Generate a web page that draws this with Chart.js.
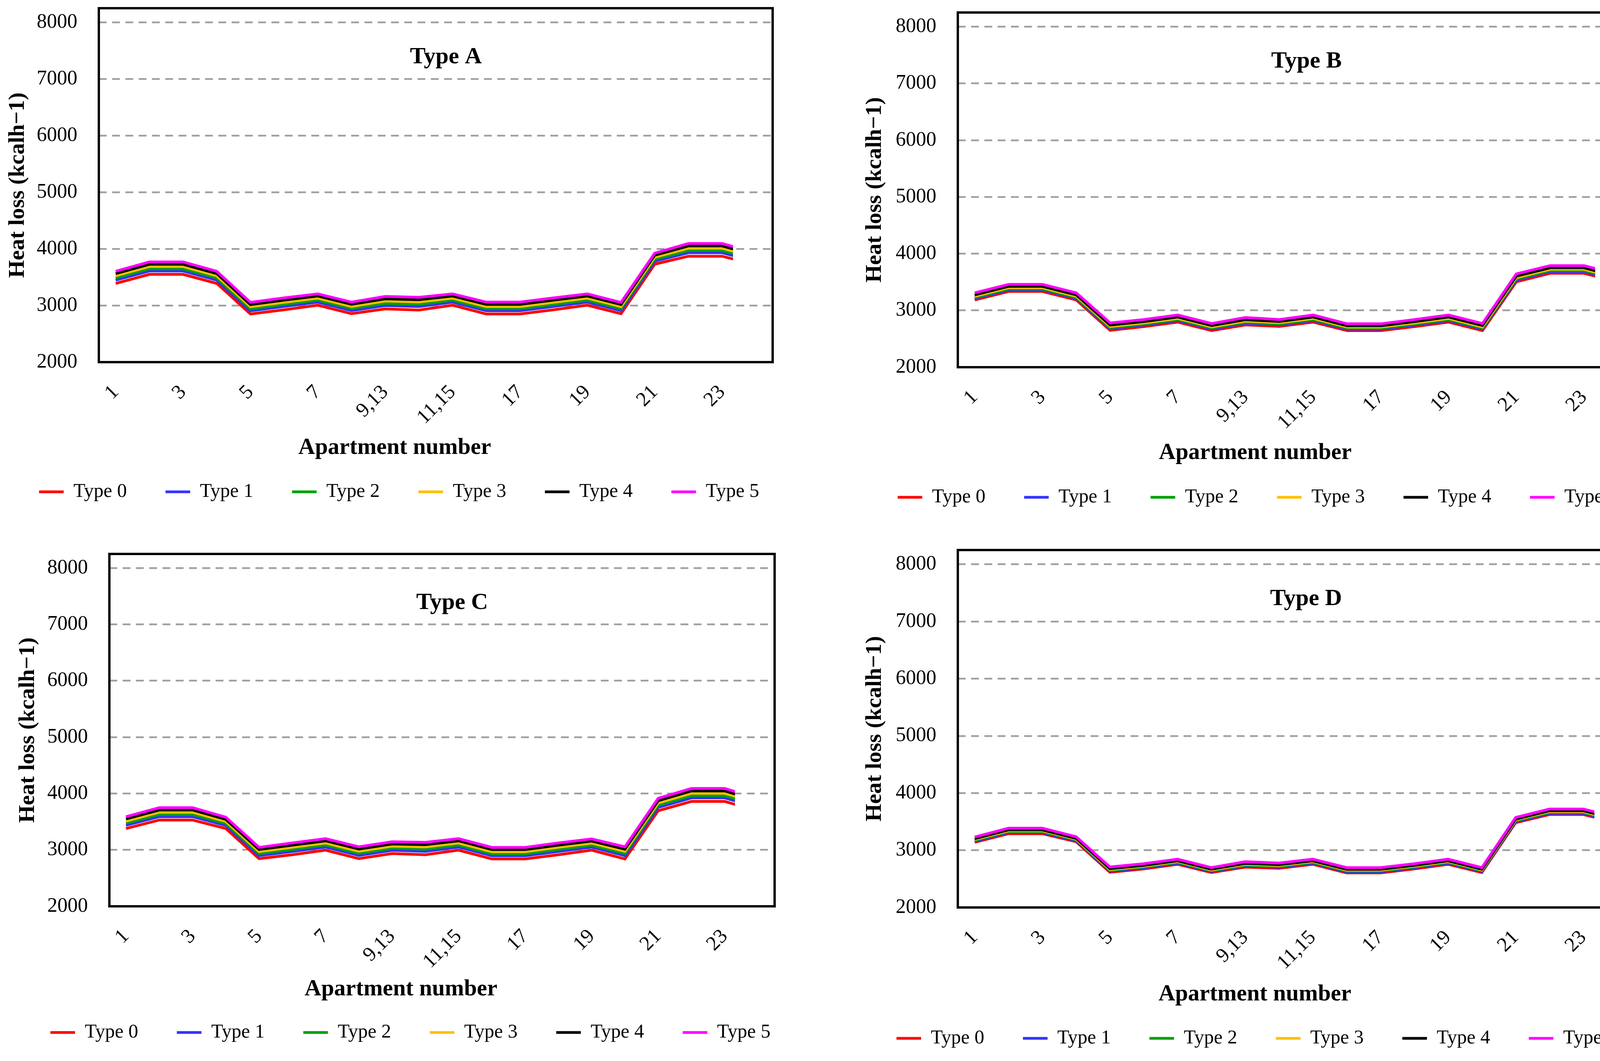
<!DOCTYPE html>
<html>
<head>
<meta charset="utf-8">
<script src="https://cdn.jsdelivr.net/npm/chart.js@4.4.0/dist/chart.umd.min.js"></script>
<style>
  html, body { margin: 0; padding: 0; background: #ffffff; overflow: hidden; }
  body { width: 4202px; height: 2716px; position: relative; }
  canvas { position: absolute; }
</style>
</head>
<body>
<canvas id="chartA" width="2301" height="1358" style="left:0px;top:0px;width:2301px;height:1358px"></canvas>
<canvas id="chartB" width="2301" height="1358" style="left:2101px;top:0px;width:2301px;height:1358px"></canvas>
<canvas id="chartC" width="2301" height="1358" style="left:0px;top:1358px;width:2301px;height:1358px"></canvas>
<canvas id="chartD" width="2301" height="1358" style="left:2101px;top:1358px;width:2301px;height:1358px"></canvas>
<script>
// ---------- DATA ----------
const categories = ['1','2','3','4','5','6','7','8','9,13','10,14','11,15','12,16','17','18','19','20','21','22','23','24'];
const seriesNames = ['Type 0','Type 1','Type 2','Type 3','Type 4','Type 5'];
const panelTitles = ['Type A','Type B','Type C','Type D'];
const yTickValues = [2000, 3000, 4000, 5000, 6000, 7000, 8000];
const xAxisTitle = 'Apartment number';
const yAxisTitle = 'Heat loss (kcalh\u22121)';
const yMin = 2000, yMax = 8250;

// Type A
const typeA_0 = [3390,3550,3550,3390,2850,2925,3005,2855,2940,2920,3005,2850,2850,2925,3005,2855,3730,3870,3870,3720];
const typeA_1 = [3448,3609,3609,3448,2905,2982,3059,2910,2999,2981,3059,2907,2907,2982,3059,2909,3783,3931,3931,3777];
const typeA_2 = [3487,3649,3649,3487,2942,3020,3095,2947,3039,3021,3095,2945,2945,3020,3095,2945,3818,3971,3971,3815];
const typeA_3 = [3525,3689,3689,3525,2979,3057,3131,2984,3079,3062,3131,2982,2982,3057,3131,2981,3853,4012,4012,3852];
const typeA_4 = [3564,3728,3728,3564,3016,3095,3167,3021,3118,3102,3167,3020,3020,3095,3167,3017,3888,4052,4052,3890];
const typeA_5 = [3605,3770,3770,3605,3055,3135,3205,3060,3160,3145,3205,3060,3060,3135,3205,3055,3925,4095,4095,3930];

// Type B
const typeB_0 = [3185,3335,3335,3185,2650,2715,2795,2645,2745,2720,2795,2645,2645,2715,2795,2645,3505,3655,3655,3505];
const typeB_1 = [3213,3363,3363,3213,2679,2743,2823,2673,2774,2746,2823,2671,2671,2743,2823,2673,3536,3685,3685,3534];
const typeB_2 = [3230,3380,3380,3230,2697,2760,2840,2690,2792,2763,2840,2688,2688,2760,2840,2690,3555,3704,3704,3552];
const typeB_3 = [3251,3401,3401,3251,2719,2781,2861,2711,2814,2784,2861,2709,2709,2781,2861,2711,3579,3727,3727,3574];
const typeB_4 = [3274,3424,3424,3274,2742,2804,2884,2734,2837,2805,2884,2730,2730,2804,2884,2734,3604,3751,3751,3597];
const typeB_5 = [3310,3460,3460,3310,2780,2840,2920,2770,2875,2840,2920,2765,2765,2840,2920,2770,3645,3790,3790,3635];

// Type C
const typeC_0 = [3380,3530,3530,3380,2845,2915,2995,2845,2935,2915,2995,2840,2840,2915,2995,2840,3695,3860,3860,3695];
const typeC_1 = [3437,3589,3589,3434,2899,2972,3050,2902,2992,2974,3050,2895,2895,2972,3049,2898,3754,3922,3922,3754];
const typeC_2 = [3475,3629,3629,3470,2935,3010,3087,2940,3030,3014,3087,2932,2932,3010,3085,2937,3794,3964,3964,3794];
const typeC_3 = [3512,3669,3669,3506,2971,3047,3124,2977,3067,3054,3124,2969,2969,3047,3121,2975,3834,4005,4005,3834];
const typeC_4 = [3550,3708,3708,3542,3007,3085,3161,3015,3105,3093,3161,3006,3006,3085,3157,3014,3873,4046,4046,3873];
const typeC_5 = [3590,3750,3750,3580,3045,3125,3200,3055,3145,3135,3200,3045,3045,3125,3195,3055,3915,4090,4090,3915];

// Type D
const typeD_0 = [3140,3290,3290,3150,2615,2675,2755,2612,2705,2685,2755,2605,2605,2675,2755,2612,3483,3625,3625,3478];
const typeD_1 = [3159,3310,3310,3168,2635,2694,2774,2630,2725,2704,2774,2624,2624,2694,2774,2630,3502,3645,3645,3498];
const typeD_2 = [3174,3326,3326,3182,2649,2708,2788,2643,2740,2719,2788,2639,2639,2708,2788,2643,3517,3661,3661,3514];
const typeD_3 = [3189,3341,3341,3196,2664,2723,2803,2657,2755,2734,2803,2654,2654,2723,2803,2657,3532,3676,3676,3529];
const typeD_4 = [3203,3356,3356,3209,2678,2736,2816,2670,2770,2748,2816,2668,2668,2736,2816,2670,3545,3691,3691,3543];
const typeD_5 = [3232,3387,3387,3237,2708,2765,2845,2697,2800,2777,2845,2697,2697,2765,2845,2697,3574,3722,3722,3574];

// ---------- STYLE ----------
const FONT = "'Liberation Serif', 'Times New Roman', serif";
const COLORS = ['#ff0000', '#3333ff', '#00a000', '#ffc000', '#000000', '#ff00ff'];

const panelDecor = {
  id: 'panelDecor',
  afterLayout(chart, args, opts) {
    const s = chart.scales.x;
    s.left += opts.xTitleShift;
    s.right += opts.xTitleShift;
  },
  afterDraw(chart, args, opts) {
    const ctx = chart.ctx, a = chart.chartArea;
    ctx.save();
    ctx.lineWidth = 6;
    ctx.strokeStyle = '#000000';
    ctx.strokeRect(a.left, a.top, a.right - a.left, a.bottom - a.top);
    ctx.fillStyle = '#000000';
    ctx.font = 'bold 60px ' + FONT;
    ctx.textAlign = 'center';
    ctx.textBaseline = 'middle';
    ctx.fillText(opts.title, (a.left + a.right) / 2 + 26, a.top + 125);
    ctx.restore();
  }
};

function makeChart(p) {
  const datasets = p.series.map((vals, i) => ({
    label: seriesNames[i],
    data: vals,
    borderColor: COLORS[i],
    backgroundColor: COLORS[i],
    borderWidth: 7,
    pointRadius: 0,
    pointHoverRadius: 0,
    pointBorderWidth: 7,
    pointBorderColor: COLORS[i],
    pointBackgroundColor: COLORS[i],
    tension: 0,
    fill: false,
    order: 5 - i
  }));
  new Chart(document.getElementById(p.id), {
    type: 'line',
    data: { labels: categories, datasets: datasets },
    options: {
      responsive: false,
      animation: false,
      devicePixelRatio: 1,
      events: [],
      layout: { padding: p.pad },
      plugins: {
        tooltip: { enabled: false },
        legend: {
          display: true,
          position: 'bottom',
          align: 'start',
          labels: {
            usePointStyle: true,
            pointStyle: 'line',
            pointStyleWidth: 63,
            padding: 99,
            color: '#000000',
            font: { family: FONT, size: 50 },
            sort: (a, b) => a.datasetIndex - b.datasetIndex
          }
        },
        panelDecor: { title: p.title, xTitleShift: -105 }
      },
      scales: {
        x: {
          type: 'category',
          offset: true,
          grid: { display: false, drawTicks: false },
          border: { display: false },
          ticks: {
            autoSkip: false,
            minRotation: 45,
            maxRotation: 45,
            padding: 47,
            color: '#000000',
            font: { family: FONT, size: 52 },
            callback: (value, index) => (index % 2 === 0 ? categories[index] : '')
          },
          title: {
            display: true,
            text: xAxisTitle,
            color: '#000000',
            font: { family: FONT, size: 59, weight: 'bold' },
            padding: { top: 0, bottom: p.xTitlePadB }
          },
          afterFit: (s) => { s.height = p.xHeight; s.paddingLeft = 0; s.paddingRight = 0; }
        },
        y: {
          type: 'linear',
          position: 'left',
          min: yMin,
          max: yMax,
          grid: { color: '#a0a0a0', lineWidth: 4.5, drawTicks: false },
          border: { display: false, dash: [20, 14] },
          ticks: {
            padding: 55,
            color: '#000000',
            font: { family: FONT, size: 52 },
            callback: (v) => String(v)
          },
          afterBuildTicks: (s) => { s.ticks = yTickValues.map((v) => ({ value: v })); },
          title: {
            display: true,
            text: yAxisTitle,
            color: '#000000',
            font: { family: FONT, size: 58, weight: 'bold' },
            padding: { top: p.yTitlePadT, bottom: 0 }
          },
          afterFit: (s) => { s.width = p.yWidth; s.paddingTop = 0; s.paddingBottom = 0; }
        },
        yPad: {
          type: 'linear',
          position: 'right',
          display: true,
          grid: { display: false, drawTicks: false },
          border: { display: false },
          ticks: { display: false },
          afterFit: (s) => { s.width = 130; s.paddingTop = 0; s.paddingBottom = 0; }
        }
      }
    },
    plugins: [panelDecor]
  });
}

const panels = [
  { id: 'chartA', title: panelTitles[0], series: [typeA_0, typeA_1, typeA_2, typeA_3, typeA_4, typeA_5],
    pad: { left: 1, top: 21, right: 193, bottom: 64 }, yWidth: 252, xHeight: 208, xTitlePadB: -47, yTitlePadT: 10 },
  { id: 'chartB', title: panelTitles[1], series: [typeB_0, typeB_1, typeB_2, typeB_3, typeB_4, typeB_5],
    pad: { left: 98, top: 32, right: 87, bottom: 50 }, yWidth: 253, xHeight: 209, xTitlePadB: -46, yTitlePadT: 6 },
  { id: 'chartC', title: panelTitles[2], series: [typeC_0, typeC_1, typeC_2, typeC_3, typeC_4, typeC_5],
    pad: { left: 30, top: 60, right: 188, bottom: 38 }, yWidth: 250, xHeight: 199, xTitlePadB: -49, yTitlePadT: 7 },
  { id: 'chartD', title: panelTitles[3], series: [typeD_0, typeD_1, typeD_2, typeD_3, typeD_4, typeD_5],
    pad: { left: 95, top: 50, right: 89, bottom: 23 }, yWidth: 256, xHeight: 211, xTitlePadB: -47, yTitlePadT: 9 }
];

panels.forEach(makeChart);
</script>
</body>
</html>
